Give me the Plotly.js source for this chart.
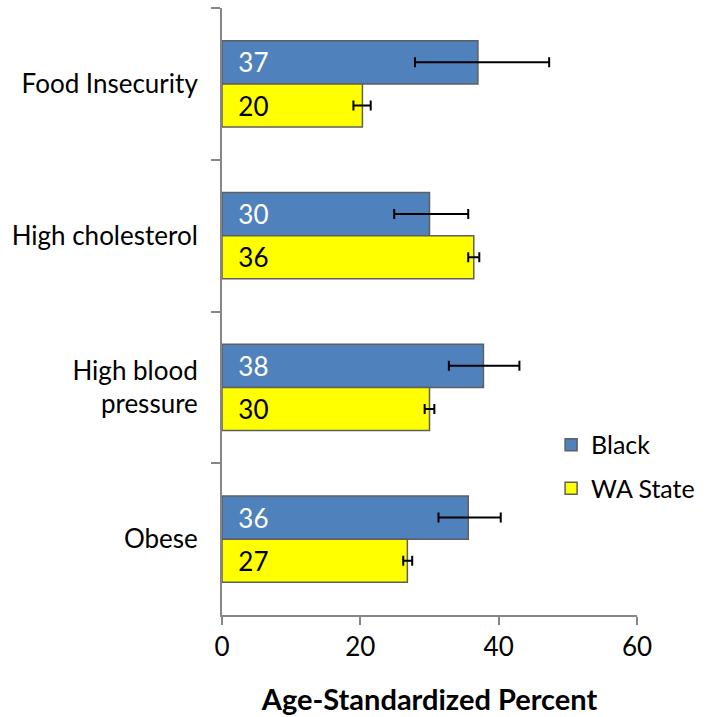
<!DOCTYPE html>
<html>
<head>
<meta charset="utf-8">
<script src="https://cdn.plot.ly/plotly-3.0.1.min.js"></script>
<style>html,body{margin:0;padding:0;background:#fff;}#chart{width:705px;height:717px;}</style>
</head>
<body>
<div id="chart"></div>
<script>
const categories = ["Food Insecurity", "High cholesterol", "High blood<br>pressure", "Obese"];
const blackValues = [37.0, 30.0, 37.8, 35.6];
const blackErrPlus = [10.3, 5.6, 5.2, 4.7];
const blackErrMinus = [9.1, 5.1, 5.0, 4.3];
const waValues = [20.3, 36.4, 30.0, 26.8];
const waErrPlus = [1.2, 0.8, 0.7, 0.7];
const waErrMinus = [1.3, 0.8, 0.7, 0.6];
const xTicks = [0, 20, 40, 60];

const FONT = "Lato, 'Open Sans', sans-serif";
const pad = "\u00a0\u00a0";

const traces = [
  {
    type: "bar", orientation: "h", name: "Black", legendgroup: "g1",
    y: categories, x: blackValues,
    marker: {color: "#4F81BD", line: {color: "#5f5f5f", width: 1.5}},
    text: blackValues.map(v => pad + Math.round(v)),
    textposition: "inside", insidetextanchor: "start",
    textfont: {color: "#ffffff", size: 26, family: FONT},
    error_x: {type: "data", symmetric: false, array: blackErrPlus, arrayminus: blackErrMinus,
              color: "#000000", thickness: 2, width: 5},
    hoverinfo: "none"
  },
  {
    type: "bar", orientation: "h", name: "WA State", legendgroup: "g2",
    y: categories, x: waValues,
    marker: {color: "#FFFF00", line: {color: "#5f5f5f", width: 1.5}},
    text: waValues.map(v => pad + Math.round(v)),
    textposition: "inside", insidetextanchor: "start",
    textfont: {color: "#000000", size: 26, family: FONT},
    error_x: {type: "data", symmetric: false, array: waErrPlus, arrayminus: waErrMinus,
              color: "#000000", thickness: 2, width: 5},
    hoverinfo: "none"
  }
];

const layout = {
  width: 705, height: 717,
  margin: {l: 222, r: 68, t: 8, b: 102, autoexpand: false},
  paper_bgcolor: "#ffffff", plot_bgcolor: "#ffffff",
  font: {family: FONT, size: 26, color: "#000000"},
  barmode: "group", bargap: 0.43, bargroupgap: 0,
  showlegend: true,
  legend: {x: 0.793, y: 0.318, xanchor: "left", yanchor: "top",
           font: {size: 25, family: FONT}, bgcolor: "rgba(0,0,0,0)", tracegroupgap: 8,
           itemwidth: 30},
  xaxis: {
    range: [0, 60], tickvals: xTicks, ticktext: xTicks.map(String),
    showline: true, linecolor: "#868686", linewidth: 2,
    ticks: "outside", ticklen: 8, tickwidth: 2, tickcolor: "#868686",
    showgrid: false, zeroline: false, automargin: false,
    tickfont: {size: 26, family: FONT},
    title: {text: "<b>Age-Standardized Percent</b>", font: {size: 29, family: FONT}, standoff: 28}
  },
  yaxis: {
    type: "category", autorange: "reversed",
    showline: true, linecolor: "#868686", linewidth: 2,
    ticks: "outside", tickson: "boundaries", ticklen: 9, tickwidth: 2, tickcolor: "#868686",
    showgrid: false, zeroline: false, automargin: false,
    tickfont: {size: 26, family: FONT},
    ticklabelstandoff: 17
  }
};

Plotly.newPlot("chart", traces, layout, {displayModeBar: false, staticPlot: true});
</script>
</body>
</html>
